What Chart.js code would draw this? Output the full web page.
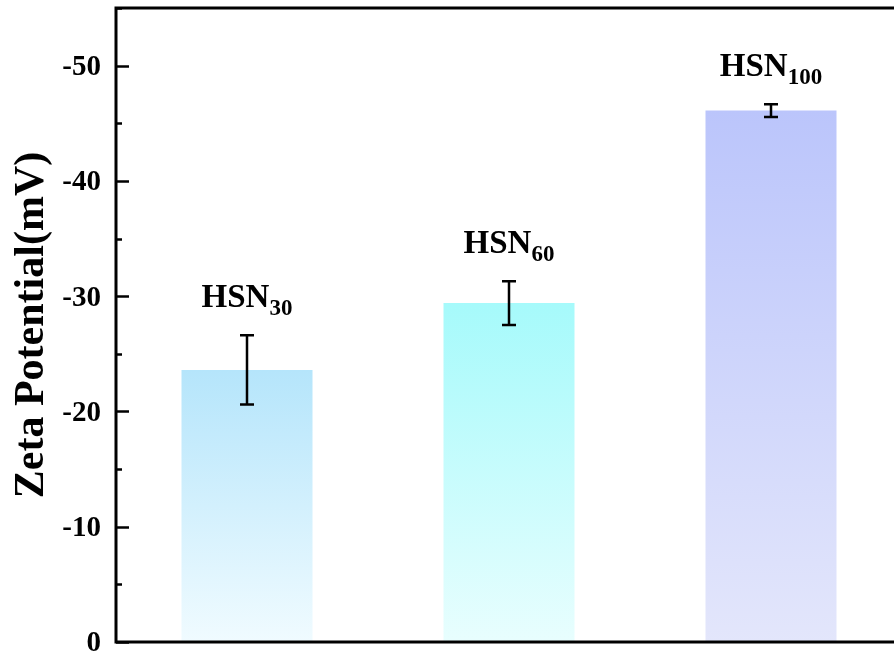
<!DOCTYPE html>
<html>
<head>
<meta charset="utf-8">
<script src="https://cdn.jsdelivr.net/npm/chart.js@4.4.1/dist/chart.umd.min.js"></script>
<style>
  html, body { margin: 0; padding: 0; background: #fff; }
  #wrap { width: 894px; height: 656px; overflow: hidden; position: relative; }
  #wrap canvas { position: absolute; left: 0; top: 0; }
</style>
</head>
<body>
<div id="wrap"><canvas id="chart" width="902" height="656"></canvas></div>
<script>
const labels = ['HSN30', 'HSN60', 'HSN100'];
const labelMain = ['HSN', 'HSN', 'HSN'];
const labelSub = ['30', '60', '100'];
const zeta = [-23.6, -29.4, -46.1];
const zetaErr = [3.0, 1.9, 0.55];
const yTicks = [0, -10, -20, -30, -40, -50];
const yTitle = 'Zeta Potential(mV)';
const topColors = ['#b5e5fb', '#a6fafb', '#bbc5fb'];
const bottomColors = ['#f0fbff', '#e8fefe', '#e3e6fb'];

const serif = '"Liberation Serif", "Times New Roman", serif';

const framePlugin = {
    id: 'frame',
    afterDatasetsDraw(chart) {
        const { ctx, chartArea: a, scales: { x, y } } = chart;
        ctx.save();

        // error bars
        ctx.strokeStyle = '#000';
        ctx.lineWidth = 2.5;
        zeta.forEach((v, i) => {
            const cx = x.getPixelForValue(i);
            const yTop = y.getPixelForValue(v - zetaErr[i]);
            const yBot = y.getPixelForValue(v + zetaErr[i]);
            ctx.beginPath();
            ctx.moveTo(cx, yTop); ctx.lineTo(cx, yBot);
            ctx.moveTo(cx - 7, yTop); ctx.lineTo(cx + 7, yTop);
            ctx.moveTo(cx - 7, yBot); ctx.lineTo(cx + 7, yBot);
            ctx.stroke();

            // label with subscript
            ctx.fillStyle = '#000';
            ctx.textBaseline = 'alphabetic';
            ctx.font = 'bold 33px ' + serif;
            const w1 = ctx.measureText(labelMain[i]).width;
            ctx.font = 'bold 23px ' + serif;
            const w2 = ctx.measureText(labelSub[i]).width;
            const start = cx - (w1 + w2) / 2;
            const base = yTop - 28;
            ctx.font = 'bold 33px ' + serif;
            ctx.textAlign = 'left';
            ctx.fillText(labelMain[i], start, base);
            ctx.font = 'bold 23px ' + serif;
            ctx.fillText(labelSub[i], start + w1, base + 8);
        });

        // ticks inside the frame
        ctx.lineWidth = 2.5;
        for (let v = 0; v >= -55; v -= 5) {
            const py = Math.round(y.getPixelForValue(v)) + 0.5;
            const len = v % 10 === 0 ? 13 : 6;
            ctx.beginPath();
            ctx.moveTo(a.left, py); ctx.lineTo(a.left + len, py);
            ctx.stroke();
        }

        // tick labels
        ctx.font = 'bold 29px ' + serif;
        ctx.textAlign = 'right';
        ctx.textBaseline = 'middle';
        yTicks.forEach((v) => {
            ctx.fillText(String(v), a.left - 15, y.getPixelForValue(v) + 2);
        });

        // axis title
        ctx.save();
        ctx.translate(43, (a.top + a.bottom) / 2);
        ctx.rotate(-Math.PI / 2);
        ctx.font = 'bold 42px ' + serif;
        ctx.textAlign = 'center';
        ctx.textBaseline = 'alphabetic';
        ctx.fillText(yTitle, 0, 0);
        ctx.restore();

        // frame: left, top, bottom
        ctx.lineWidth = 3;
        ctx.beginPath();
        ctx.moveTo(a.right + 2, a.top);
        ctx.lineTo(a.left, a.top);
        ctx.lineTo(a.left, a.bottom);
        ctx.lineTo(a.right + 2, a.bottom);
        ctx.stroke();
        ctx.restore();
    }
};

new Chart(document.getElementById('chart'), {
    type: 'bar',
    data: {
        labels: labels,
        datasets: [{
            data: zeta,
            barPercentage: 0.5,
            categoryPercentage: 1.0,
            backgroundColor: (c) => {
                const chart = c.chart;
                if (!chart.chartArea) return topColors[c.dataIndex];
                const y = chart.scales.y;
                const top = y.getPixelForValue(zeta[c.dataIndex]);
                const g = chart.ctx.createLinearGradient(0, top, 0, chart.chartArea.bottom);
                g.addColorStop(0, topColors[c.dataIndex]);
                g.addColorStop(1, bottomColors[c.dataIndex]);
                return g;
            },
            borderWidth: 0
        }]
    },
    options: {
        responsive: false,
        animation: false,
        layout: { padding: { top: 8, bottom: 14, left: 116, right: 0 } },
        plugins: { legend: { display: false }, tooltip: { enabled: false } },
        scales: {
            x: {
                ticks: { display: false },
                grid: { display: false, drawTicks: false },
                border: { display: false }
            },
            y: {
                min: -55,
                max: 0,
                reverse: true,
                afterFit: (s) => { s.width = 0; },
                ticks: { display: false },
                grid: { display: false, drawTicks: false },
                border: { display: false }
            }
        }
    },
    plugins: [framePlugin]
});
</script>
</body>
</html>
